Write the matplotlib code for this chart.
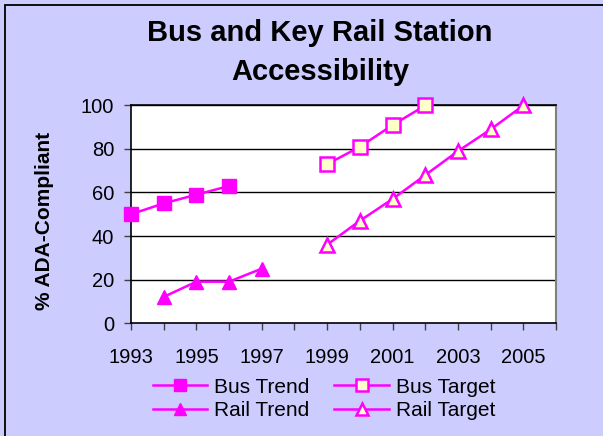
import matplotlib
matplotlib.use("Agg")
import matplotlib.pyplot as plt
from matplotlib.patches import Rectangle

plt.rcParams['font.family'] = ['Liberation Sans', 'DejaVu Sans']

bus_trend_years = [1993, 1994, 1995, 1996]
bus_trend_vals = [50, 55, 59, 63]
rail_trend_years = [1994, 1995, 1996, 1997]
rail_trend_vals = [12, 19, 19, 25]
bus_target_years = [1999, 2000, 2001, 2002]
bus_target_vals = [73, 81, 91, 100]
rail_target_years = [1999, 2000, 2001, 2002, 2003, 2004, 2005]
rail_target_vals = [36, 47, 57, 68, 79, 89, 100]
x_tick_labels = ['1993', '1995', '1997', '1999', '2001', '2003', '2005']
y_ticks = [0, 20, 40, 60, 80, 100]

W, H = 603, 436
fig = plt.figure(figsize=(W / 100, H / 100), dpi=100)
fig.patch.set_facecolor('#CCCCFF')
fig.patches.append(Rectangle((4.7 / W, -0.05), 1.1, (H - 5) / H + 0.05,
                             transform=fig.transFigure, fill=False,
                             edgecolor='black', linewidth=1.3))

left, right, top, bottom = 131, 556, 105.5, 323
ax = fig.add_axes([left / W, 1 - bottom / H, (right - left) / W, (bottom - top) / H])
ax.set_facecolor('white')

mag = '#FF00FF'
ax.plot(bus_trend_years, bus_trend_vals, color=mag, lw=1.8, marker='s', ms=10,
        mfc=mag, mec=mag, label='Bus Trend', clip_on=False, zorder=5)
ax.plot(bus_target_years, bus_target_vals, color=mag, lw=1.8, marker='s', ms=9.5,
        mfc='#FFFFCC', mec=mag, mew=1.8, label='Bus Target', clip_on=False, zorder=5)
ax.plot(rail_trend_years, rail_trend_vals, color=mag, lw=1.8, marker='^', ms=10.5,
        mfc=mag, mec=mag, label='Rail Trend', clip_on=False, zorder=5)
ax.plot(rail_target_years, rail_target_vals, color=mag, lw=1.8, marker='^', ms=10,
        mfc='#FFFFCC', mec=mag, mew=1.8, label='Rail Target', clip_on=False, zorder=5)

ax.set_xlim(1993, 2006)
ax.set_ylim(0, 100)
ax.set_xticks(range(1993, 2007))
ax.set_xticklabels([str(y) if str(y) in x_tick_labels else '' for y in range(1993, 2007)])
ax.set_yticks(y_ticks)
ax.tick_params(axis='both', direction='out', length=5, width=1, labelsize=14.5,
               color='#404040')
ax.tick_params(axis='x', pad=13)
ax.tick_params(axis='y', pad=7)
for y in y_ticks[1:]:
    ax.axhline(y, color='black', lw=1, zorder=1)
for s in ['left', 'bottom', 'top']:
    ax.spines[s].set_color('black')
    ax.spines[s].set_linewidth(1.2)
ax.spines['right'].set_color('#808080')
ax.spines['right'].set_linewidth(1.5)

fig.text(45 / W, 1 - 221 / H, '% ADA-Compliant', rotation=90, ha='center', va='center',
         fontsize=15, fontweight='bold')

fig.text(320 / W, 1 - 33 / H, 'Bus and Key Rail Station', ha='center',
         va='center', fontsize=21, fontweight='bold')
fig.text(320 / W, 1 - 72 / H, 'Accessibility', ha='center',
         va='center', fontsize=21, fontweight='bold')

h, l = ax.get_legend_handles_labels()
order = [0, 2, 1, 3]
leg = fig.legend([h[i] for i in order], [l[i] for i in order], ncol=2,
                 loc='center', bbox_to_anchor=(324 / W, 1 - 399 / H), frameon=False,
                 fontsize=15, handlelength=2.6, columnspacing=1.2,
                 handletextpad=0.35, labelspacing=0.22)
for lh in leg.legend_handles:
    lh.set_markersize(9)

fig.savefig('out.png', dpi=100, facecolor=fig.get_facecolor())
